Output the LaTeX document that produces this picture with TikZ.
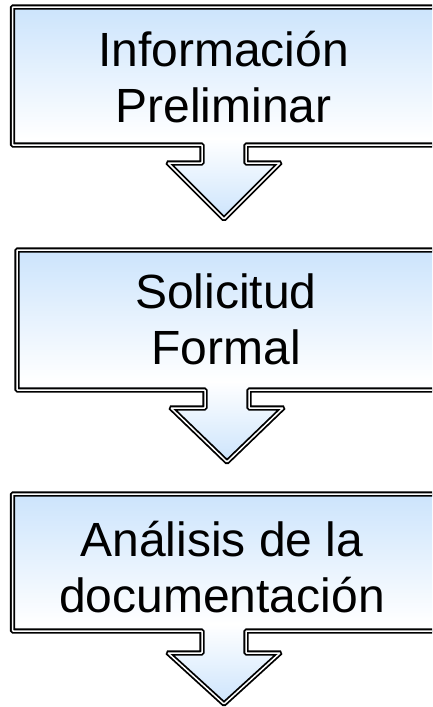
\documentclass[tikz,border=0pt]{standalone}
\usepackage{fontspec}
\setmainfont{Liberation Sans}

\definecolor{callblue}{RGB}{204,228,252}
\pgfdeclareverticalshading{callshade}{100bp}{color(0bp)=(callblue); color(25bp)=(callblue); color(44bp)=(white); color(75bp)=(callblue); color(100bp)=(callblue)}

\tikzset{
  callbox/.style={draw=black,line width=1.8pt,double=white,double distance=1.5pt,
    shade,shading=callshade,rounded corners=0.8pt},
  calltext/.style={align=center,inner sep=0pt,font=\fontsize{48}{56}\selectfont}
}

% left, right, top, bottom, centre x, shaft end, tip
\newcommand{\callout}[7]{%
  \draw[callbox] (#1,#3) -- (#2,#3) -- (#2,#4) -- ({#5+\sw},#4) -- ({#5+\sw},#6)
    -- ({#5+\hw},#6) -- (#5,#7) -- ({#5-\hw},#6) -- ({#5-\sw},#6) -- ({#5-\sw},#4)
    -- (#1,#4) -- cycle;}

\begin{document}
\begin{tikzpicture}[x=1pt,y=-1pt]
\clip (0,0) rectangle (432,707);
\useasboundingbox (0,0) rectangle (432,707);

\def\sw{22}
\def\hw{56}

\callout{12.5}{436}{7}{145}{224}{163}{219}
\callout{17}{436}{250}{390}{227}{408}{462}
\callout{12.5}{436}{494}{631}{224}{653}{704}

\node[calltext] (info) at (223.5,77) {Información\\Preliminar};
\node[calltext] (solic) at (226,319) {Solicitud\\Formal};
\node[calltext] (anal) at (222,567) {Análisis de la\\documentación};

\end{tikzpicture}
\end{document}
